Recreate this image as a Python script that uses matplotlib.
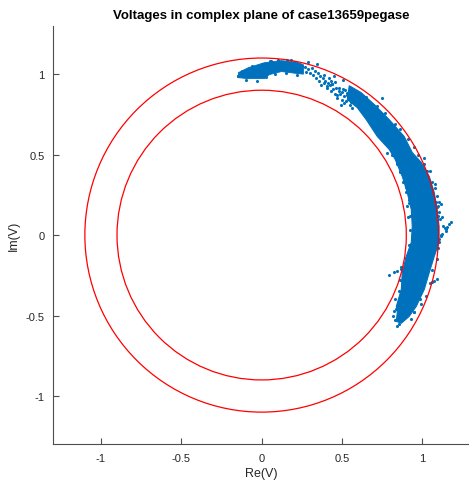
import matplotlib
matplotlib.use("Agg")
from matplotlib import pyplot as plt
from matplotlib.patches import Circle, Polygon

# limits drawn as red circles
circle_radii = [0.9, 1.1]

# dense part of the voltage cloud, outer edge (top -> bottom) then inner edge (bottom -> top)
core_re = [0.545, 0.619, 0.701, 0.794, 0.887, 0.937, 0.993, 1.043, 1.074, 1.092, 1.104, 1.104,
           1.074, 1.043, 1.012, 0.962, 0.918, 0.869,
           0.838, 0.844, 0.838, 0.869, 0.875, 0.900, 0.931, 0.937, 0.931, 0.906, 0.875, 0.831,
           0.794, 0.720, 0.651, 0.595, 0.533]
core_im = [0.928, 0.885, 0.811, 0.717, 0.612, 0.513, 0.451, 0.364, 0.264, 0.159, 0.054, -0.045,
           -0.132, -0.232, -0.337, -0.443, -0.505, -0.548,
           -0.536, -0.480, -0.443, -0.337, -0.232, -0.132, -0.045, 0.054, 0.159, 0.264, 0.364, 0.470,
           0.532, 0.612, 0.717, 0.792, 0.842]

# cluster near angle 90 deg
top_re = [-0.145, -0.083, 0.017, 0.123, 0.228, 0.260,
          0.260, 0.228, 0.123, 0.048, 0.017, -0.083, -0.145]
top_im = [1.009, 1.040, 1.071, 1.084, 1.071, 1.058,
          1.000, 1.003, 1.016, 0.997, 0.972, 0.972, 0.978]

# single buses away from the dense part
bus_re = [0.390, 0.421, 0.440, 0.458, 0.483, 0.502, 0.471, 0.521, 0.545, 0.558, 0.576, 0.508,
          0.409, 0.346, 0.290, 0.452, 0.751, 0.496, 0.514, 0.564, 0.782, 0.869, 0.430, 0.530,
          1.093, 1.105, 1.124, 1.167, 1.180, 1.149, 1.124, 1.105, 1.086, 1.105, 1.118, 1.105,
          1.086, 1.074, 1.062, 1.093, 1.155, 1.149, 1.118, 1.130, 1.140,
          0.794, 0.825, 0.844, 0.869, 0.825, 0.856, 0.838, 0.856, 0.844,
          0.912, 0.919, 0.905, 0.896, 0.860, 0.845, 0.815, 0.760, 0.700, 0.660,
          1.010, 1.050, 1.080, 1.100, 0.985, 0.950, -0.150, -0.120, 0.060, 0.180, 0.250,
          # band between the two clusters
          0.27, 0.275, 0.29, 0.30, 0.315, 0.32, 0.335, 0.34, 0.35, 0.355, 0.365, 0.37, 0.38,
          0.385, 0.395, 0.405, 0.41, 0.425, 0.43, 0.44, 0.445, 0.455, 0.465, 0.47, 0.48, 0.49,
          0.50, 0.505, 0.515, 0.525, 0.53, 0.54, 0.55, 0.555,
          # ragged outer edge
          0.65, 0.72, 0.77, 0.83, 0.86, 0.91, 0.95, 0.97, 1.01, 1.03, 1.06, 1.08, 1.09, 1.10,
          1.11, 1.115, 1.10, 1.09, 1.06, 1.05, 1.02, 0.99, 0.95, 0.93,
          # ragged inner edge
          0.60, 0.66, 0.70, 0.75, 0.79, 0.81, 0.84, 0.86, 0.88, 0.90, 0.915, 0.92, 0.925, 0.915,
          0.895, 0.87, 0.86, 0.855, 0.83, 0.82, 0.83,
          # ragged edge of the top cluster
          -0.15, -0.12, -0.06, 0.00, 0.05, 0.10, 0.16, 0.20, -0.10, -0.03, 0.03, 0.08, 0.15, 0.22]
bus_im = [0.997, 0.978, 0.941, 0.953, 0.916, 0.891, 0.873, 0.904, 0.867, 0.829, 0.854, 0.966,
          0.929, 1.065, 1.078, 0.991, 0.854, 0.811, 0.823, 0.792, 0.513, 0.470, 0.955, 0.870,
          0.172, 0.141, 0.110, 0.066, 0.079, 0.035, 0.004, -0.027, -0.076, -0.045, 0.190, 0.203,
          0.203, -0.287, -0.293, -0.275, 0.048, 0.023, -0.008, 0.055, 0.045,
          -0.250, -0.232, -0.226, -0.213, -0.474, -0.449, -0.461, -0.554, -0.566,
          0.110, 0.221, 0.180, 0.300, 0.400, 0.440, 0.520, 0.600, 0.680, 0.760,
          0.480, 0.400, 0.320, 0.120, -0.400, -0.480, 0.990, 1.010, 1.080, 1.090, 1.050,
          1.045, 1.015, 1.03, 1.005, 1.035, 0.995, 1.02, 0.975, 1.005, 0.955, 0.99, 0.935, 0.975,
          0.945, 0.96, 0.915, 0.945, 0.93, 0.895, 0.94, 0.905, 0.875, 0.915, 0.85, 0.895, 0.875,
          0.84, 0.905, 0.865, 0.83, 0.88, 0.845, 0.81, 0.87,
          0.86, 0.80, 0.76, 0.69, 0.66, 0.60, 0.55, 0.50, 0.44, 0.40, 0.33, 0.29, 0.24, 0.18,
          0.10, 0.00, -0.08, -0.15, -0.22, -0.30, -0.38, -0.43, -0.48, -0.52,
          0.80, 0.74, 0.66, 0.60, 0.55, 0.50, 0.45, 0.39, 0.33, 0.27, 0.20, 0.12, 0.03, -0.06,
          -0.14, -0.20, -0.28, -0.35, -0.40, -0.50, -0.53,
          0.99, 1.02, 1.05, 1.06, 1.08, 1.09, 1.085, 1.075, 0.965, 0.96, 0.985, 1.00, 1.01, 0.995]

blue = "#0072BD"
grey = "#262626"
axis_grey = "#4d4d4d"

plt.rcParams["font.family"] = ["Liberation Sans", "DejaVu Sans"]

fig = plt.figure(figsize=(4.69, 4.81), dpi=100)
ax = fig.add_axes([0.1124, 0.0742, 0.891, 0.870])

# the voltages
ax.add_patch(Polygon(list(zip(core_re, core_im)), closed=True, facecolor=blue,
                     edgecolor=blue, linewidth=0.8, zorder=2))
ax.add_patch(Polygon(list(zip(top_re, top_im)), closed=True, facecolor=blue,
                     edgecolor=blue, linewidth=0.6, zorder=2))
ax.scatter(bus_re, bus_im, s=5, color=blue, linewidths=0, zorder=2)

# voltage limits
for r in circle_radii:
    ax.add_patch(Circle((0, 0), r, fill=False, edgecolor="red", linewidth=0.9, zorder=3))

ax.set_xlim(-1.3, 1.3)
ax.set_ylim(-1.3, 1.3)
ax.set_xticks([-1, -0.5, 0, 0.5, 1])
ax.set_xticklabels(["-1", "-0.5", "0", "0.5", "1"])
ax.set_yticks([-1, -0.5, 0, 0.5, 1])
ax.set_yticklabels(["-1", "-0.5", "0", "0.5", "1"])

ax.spines["top"].set_visible(False)
ax.spines["right"].set_visible(False)
for side in ["left", "bottom"]:
    ax.spines[side].set_color(axis_grey)
    ax.spines[side].set_linewidth(0.8)
ax.tick_params(direction="in", length=4, width=0.8, color=axis_grey, labelcolor=grey,
               labelsize=8, pad=6)

ax.set_xlabel("Re(V)", fontsize=9, color=grey, labelpad=3)
ax.set_ylabel("Im(V)", fontsize=9, color=grey, labelpad=4)
ax.set_title("Voltages in complex plane of case13659pegase", fontsize=9.5,
             fontweight="bold", pad=6)

fig.savefig("out.png", dpi=100)
